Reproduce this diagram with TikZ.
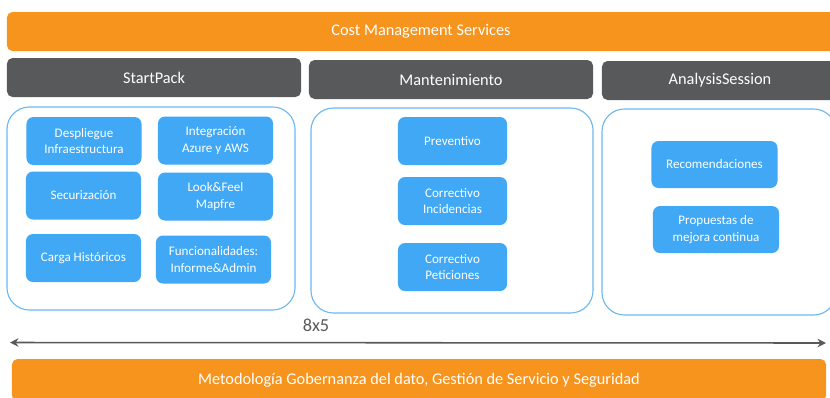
\documentclass[tikz,border=0pt]{standalone}
\usepackage{fontspec}
\setmainfont{Carlito}
\usepackage{tikz}
\usetikzlibrary{arrows.meta}
\definecolor{mgorange}{RGB}{247,148,30}
\definecolor{mggray}{RGB}{88,89,91}
\definecolor{mgblue}{RGB}{64,168,244}
\definecolor{mgline}{RGB}{108,184,240}
\tikzset{
  bar/.style={rectangle, rounded corners=4pt, fill=mgorange, text=white, font=\fontsize{11.6}{13}\selectfont},
  header/.style={rectangle, rounded corners=4pt, fill=mggray, text=white, font=\fontsize{11.6}{13}\selectfont},
  frame/.style={rectangle, rounded corners=16pt, draw=mgline, line width=0.8pt, fill=white},
  item/.style={rectangle, rounded corners=5pt, fill=mgblue, text=white, align=center, font=\fontsize{9.3}{11.5}\selectfont, minimum height=1.2cm},
  arrow/.style={{Stealth[length=6pt,width=6pt]}-{Stealth[length=6pt,width=6pt]}, draw=mggray, fill=mggray, line width=1.1pt},
}

\begin{document}
\begin{tikzpicture}[x=0.025cm, y=-0.025cm]
  \useasboundingbox (0,0) rectangle (830,397);

  % Top bar
  \node[bar, minimum width=20.7cm, minimum height=0.975cm] (cost) at (421,31.5) {Cost Management Services};

  % Headers
  \node[header, minimum width=7.35cm, minimum height=0.975cm] (startpack) at (154,77.5) {StartPack};
  \node[header, minimum width=7.1cm, minimum height=0.975cm] (mant) at (451,79.5) {Mantenimiento};
  \node[header, minimum width=5.9cm, minimum height=0.975cm] (analysis) at (720,80.5) {AnalysisSession};

  % Frames
  \node[frame, minimum width=7.2cm, minimum height=5.075cm] (spframe) at (151,208.5) {};
  \node[frame, minimum width=7.05cm, minimum height=5.125cm] (mframe) at (452,210.5) {};
  \node[frame, minimum width=5.85cm, minimum height=5.15cm] (aframe) at (719,212) {};

  % StartPack items
  \node[item, minimum width=2.875cm] (despliegue) at (84,141) {Despliegue\\Infraestructura};
  \node[item, minimum width=2.875cm] (integracion) at (215.5,140.5) {Integración\\Azure y AWS};
  \node[item, minimum width=2.875cm] (securizacion) at (83.5,195.5) {Securización};
  \node[item, minimum width=2.875cm] (lookfeel) at (215.5,196.5) {Look\&Feel\\Mapfre};
  \node[item, minimum width=2.875cm] (carga) at (83.5,258) {Carga Históricos};
  \node[item, minimum width=2.875cm] (funcional) at (213.5,259.5) {Funcionalidades:\\Informe\&Admin};

  % Mantenimiento items
  \node[item, minimum width=2.725cm] (preventivo) at (452.5,141) {Preventivo};
  \node[item, minimum width=2.725cm] (incidencias) at (452.5,201) {Correctivo\\Incidencias};
  \node[item, minimum width=2.725cm] (peticiones) at (452.5,267) {Correctivo\\Peticiones};

  % AnalysisSession items
  \node[item, minimum width=3.15cm, minimum height=1.175cm] (recomend) at (714.5,164.5) {Recomendaciones};
  \node[item, minimum width=3.15cm, minimum height=1.175cm] (propuestas) at (716,229.5) {Propuestas de\\mejora continua};

  % Duration
  \node[text=mggray, font=\fontsize{13}{14}\selectfont] (horario) at (316,325) {8x5};
  \coordinate (left) at (10,342.5);
  \coordinate (right) at (826,343);
  \draw[arrow] (left) -- (right);

  % Bottom bar
  \node[bar, minimum width=20.35cm, minimum height=1.05cm] (metodo) at (419,380) {Metodología Gobernanza del dato, Gestión de Servicio y Seguridad};
\end{tikzpicture}
\end{document}
